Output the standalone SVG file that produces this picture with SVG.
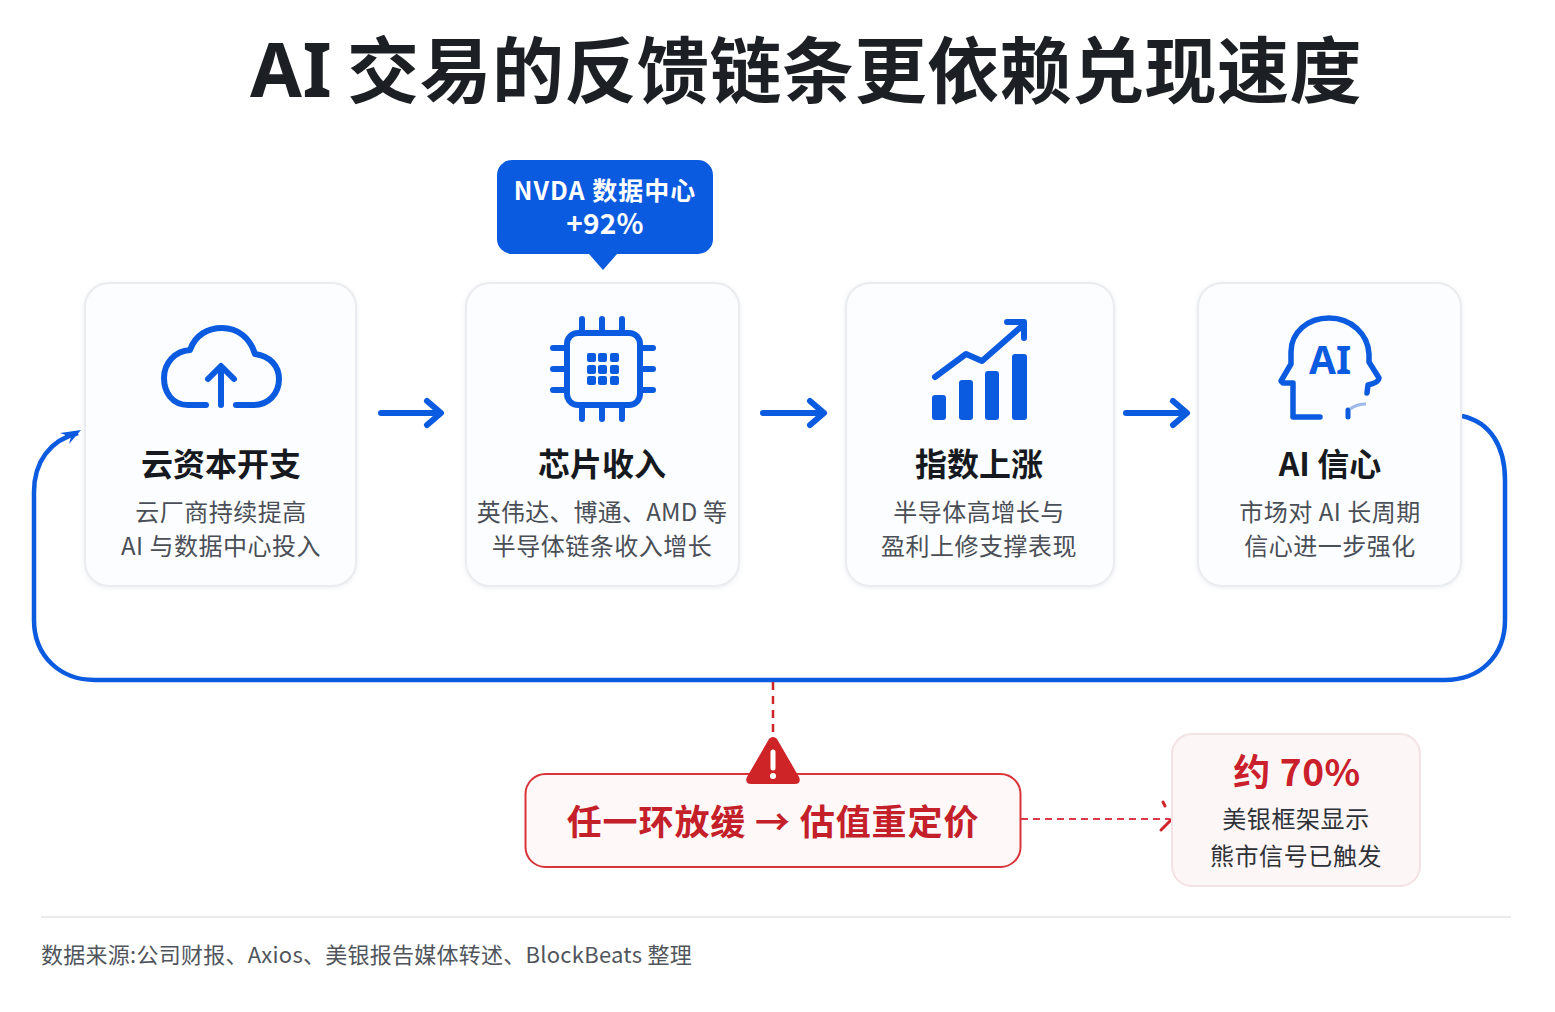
<svg xmlns="http://www.w3.org/2000/svg" width="1555" height="1012" viewBox="0 0 1555 1012">
<defs>
<filter id="soft" x="-10%" y="-10%" width="120%" height="120%"><feDropShadow dx="0" dy="1" stdDeviation="2" flood-color="#8a94a6" flood-opacity="0.16"/></filter>
</defs>
<style>
text{font-family:"Noto Sans CJK SC","Noto Sans",sans-serif;text-anchor:middle}
.card{fill:#fcfdfe;stroke:#eaecef;stroke-width:2}
.t{font-size:32px;font-weight:700;fill:#161a20}
.d{font-size:24px;fill:#4a4f57;letter-spacing:.5px}
.ic{fill:none;stroke:#0b5be0;stroke-width:6;stroke-linecap:round;stroke-linejoin:round}
.fl{fill:#0b5be0}
.arrow{fill:none;stroke:#0b5be0;stroke-width:6;stroke-linecap:round;stroke-linejoin:round}
.red{stroke:#d0242b;fill:none}
</style>
<rect width="1555" height="1012" fill="#ffffff"/>
<text x="250" y="97" style="font-size:72px;font-weight:700;fill:#1c1f24;text-anchor:start;letter-spacing:.5px"><tspan style="font-size:75px;font-family:'Noto Sans',sans-serif">AI</tspan> <tspan x="347">交易的反馈链条更依赖兑现速度</tspan></text>

<g id="connectors">
<path class="arrow" d="M381 413H440M427 401L441 413L427 425"/>
<path class="arrow" d="M763 413H823M810 401L824 413L810 425"/>
<path class="arrow" d="M1126 413H1186M1173 401L1187 413L1173 425"/>
<path d="M1462 416C1490 422 1505 446 1505 480V620C1505 656 1480 680 1445 680H95C60 680 34 656 34 620V492C34 462 50 440 78 433" fill="none" stroke="#0b5be0" stroke-width="4.500"/>
<path class="fl" d="M81 430L60 433L71 437L69 444Z"/>
<path d="M773 682V738" class="red" stroke-width="2.500" stroke-dasharray="8 6"/>
<path d="M1021 819H1170" stroke="#dc3a48" fill="none" stroke-width="2" stroke-dasharray="7 5"/>
<path d="M1163 802L1165 806M1161 830L1172 819" stroke="#d0242b" fill="none" stroke-width="3" stroke-linecap="round"/>
</g>

<g id="node-capex">
<rect class="card" x="85" y="283" width="271" height="303" rx="24" filter="url(#soft)"/>
<path class="ic" d="M206 405H188C172 405 164 392 164 378C164 363 175 351 190 350C195 335 208 328 222 328C238 328 250 338 255 354C270 356 279 366 279 379C279 394 268 405 254 405H236"/>
<path class="ic" d="M221 405V367M208 379L221 366L234 379"/>
<text class="t" x="221" y="476">云资本开支</text>
<text class="d" x="221" y="521">云厂商持续提高</text>
<text class="d" x="221" y="555">AI 与数据中心投入</text>
</g>

<g id="node-chip">
<rect class="card" x="466" y="283" width="273" height="303" rx="24" filter="url(#soft)"/>
<rect x="567" y="333" width="73" height="72" rx="11" fill="none" stroke="#0b5be0" stroke-width="6"/>
<path class="ic" d="M582 319V332M602 319V332M622 319V332M582 406V419M602 406V419M622 406V419M553 348H566M553 369H566M553 390H566M641 348H653M641 369H653M641 390H653"/>
<g class="fl"><rect x="587" y="353" width="9" height="9" rx="2"/><rect x="598" y="353" width="9" height="9" rx="2"/><rect x="610" y="353" width="9" height="9" rx="2"/><rect x="587" y="365" width="9" height="9" rx="2"/><rect x="598" y="365" width="9" height="9" rx="2"/><rect x="610" y="365" width="9" height="9" rx="2"/><rect x="587" y="376" width="9" height="9" rx="2"/><rect x="598" y="376" width="9" height="9" rx="2"/><rect x="610" y="376" width="9" height="9" rx="2"/></g>
<text class="t" x="602" y="476">芯片收入</text>
<text class="d" x="602" y="521" style="letter-spacing:.2px">英伟达、博通、AMD 等</text>
<text class="d" x="602" y="555">半导体链条收入增长</text>
</g>

<g id="callout-nvda">
<path class="fl" d="M512 160H698A15 15 0 0 1 713 175V239A15 15 0 0 1 698 254H617L603 270L589 254H512A15 15 0 0 1 497 239V175A15 15 0 0 1 512 160Z"/>
<text x="605" y="200" style="font-size:25px;font-weight:600;fill:#fff;letter-spacing:1px">NVDA 数据中心</text>
<text x="605" y="234" style="font-size:28px;font-weight:700;fill:#fff;letter-spacing:.3px">+92%</text>
</g>

<g id="node-index">
<rect class="card" x="846" y="283" width="268" height="303" rx="24" filter="url(#soft)"/>
<rect class="fl" x="932" y="395" width="14" height="25" rx="3"/>
<rect class="fl" x="959" y="380" width="14" height="40" rx="3"/>
<rect class="fl" x="985" y="371" width="14" height="49" rx="3"/>
<rect class="fl" x="1012" y="354" width="15" height="66" rx="3"/>
<path class="ic" d="M935 377L966 354L982 361L1022 326M1007 322H1024V338"/>
<text class="t" x="979" y="476">指数上涨</text>
<text class="d" x="979" y="521">半导体高增长与</text>
<text class="d" x="979" y="555">盈利上修支撑表现</text>
</g>

<g id="node-confidence">
<rect class="card" x="1198" y="283" width="263" height="303" rx="24" filter="url(#soft)"/>
<path class="ic" style="stroke-width:5.500" d="M1320 417H1293V383H1283L1281 381L1291 364V352C1291 332 1308 318 1329 318C1351 318 1368 334 1369 354L1369 362L1379 378C1379 381 1376 383 1368 385L1367 393"/>
<path class="ic" style="stroke-width:5" d="M1348 417V410"/>
<path d="M1350 409C1354 406 1361 404 1366 404" stroke="#9db9ea" stroke-width="3" fill="none"/>
<text x="1330" y="374" style="font-size:39px;font-weight:700;fill:#0b5be0;font-family:'Noto Sans',sans-serif">AI</text>
<text class="t" x="1330" y="476">AI 信心</text>
<text class="d" x="1330" y="521">市场对 AI 长周期</text>
<text class="d" x="1330" y="555">信心进一步强化</text>
</g>

<g id="node-warning">
<rect x="525.500" y="774" width="495" height="93" rx="20" fill="#fef8f8" stroke="#d8343a" stroke-width="2"/>
<path d="M773 737C775 737 776 738 777 739L799 777C801 781 799 784 795 784H751C747 784 745 781 747 777L769 739C770 738 771 737 773 737Z" fill="#cf2427"/>
<path d="M773 752V768" stroke="#fff" stroke-width="5" stroke-linecap="round"/>
<circle cx="773" cy="776" r="3" fill="#fff"/>
<text x="773" y="835" style="font-size:35px;font-weight:700;fill:#c4202a;letter-spacing:.9px">任一环放缓 → 估值重定价</text>
</g>

<g id="node-stat">
<rect x="1172" y="734" width="248" height="152" rx="20" fill="#fdf6f6" stroke="#f2e2e3" stroke-width="2"/>
<text x="1297" y="786" style="font-size:37px;font-weight:700;fill:#c9202b;letter-spacing:.6px">约 70%</text>
<text x="1296" y="828" style="font-size:24px;fill:#2e3238;letter-spacing:.6px">美银框架显示</text>
<text x="1296" y="865" style="font-size:24px;fill:#2e3238;letter-spacing:.6px">熊市信号已触发</text>
</g>

<path d="M41 917H1511" stroke="#e8eaed" stroke-width="2"/>
<text x="41" y="963" style="font-size:22px;fill:#50555c;text-anchor:start;letter-spacing:.26px">数据来源:公司财报、Axios、美银报告媒体转述、BlockBeats 整理</text>
</svg>
